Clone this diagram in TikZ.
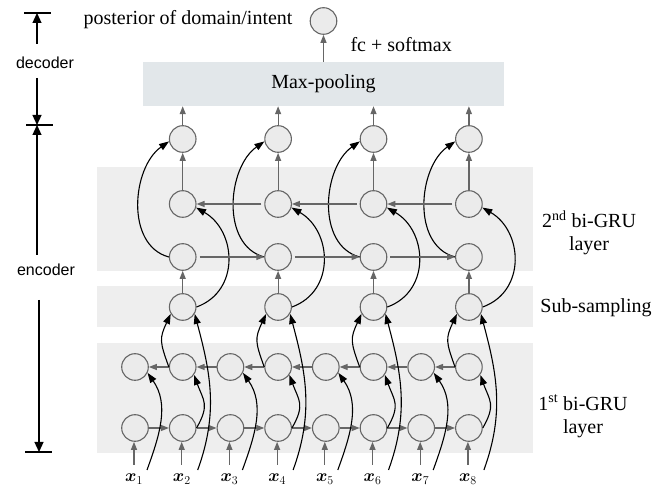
\documentclass[tikz,border=0pt]{standalone}
\usepackage{amsmath}
\usepackage{fontspec}
\setmainfont{Liberation Serif}
\newfontfamily\lsans{Liberation Sans}
\usetikzlibrary{arrows.meta}
\definecolor{boxgray}{HTML}{EEEEEE}
\definecolor{poolgray}{HTML}{E2E7EA}
\definecolor{edgegray}{HTML}{666666}
\definecolor{cellfill}{HTML}{EBEBEB}
\begin{document}
\begin{tikzpicture}[x=1pt,y=1pt,
  cell/.style={circle, draw=edgegray, fill=cellfill, line width=1.1pt, minimum size=26.6pt, inner sep=0pt},
  garrow/.style={draw=edgegray, line width=1.2pt, -{Triangle[length=8pt,width=6pt]}, color=edgegray},
  barrow/.style={draw=black, line width=1.1pt, -{Triangle[length=10pt,width=7pt]}},
  lbl/.style={font=\fontsize{20}{23}\selectfont, align=center},
  scalelbl/.style={font=\lsans\fontsize{16}{19}\selectfont},
  scalearrow/.style={line width=1.2pt, -{Triangle[length=10pt,width=9pt]}},
  tickline/.style={line width=1.2pt},
  xlab/.style={font=\fontsize{17}{19}\selectfont, anchor=base west, inner sep=0pt}
]
\useasboundingbox (0,0) rectangle (655,486);
% bands
\fill[boxgray] (97,33) rectangle (533,143);
\fill[boxgray] (97,159) rectangle (533,200);
\fill[boxgray] (97,215) rectangle (533,319);
\node[fill=poolgray, minimum width=361pt, minimum height=44pt, inner sep=0pt, lbl] (pool) at (323.5,402) {Max-pooling};
% first layer
\foreach \i in {1,...,8} {
  \pgfmathsetmacro\cx{135+47.7*(\i-1)}
  \node[cell] (F\i) at (\cx,58) {};
  \node[cell] (B\i) at (\cx,119) {};
  \coordinate (x\i) at (\cx-1,21);
  \coordinate (in\i) at (\cx+12,16);
  \coordinate (lin\i) at (\cx+15,16);
  \node[xlab] (lab\i) at (\cx-10,4.5) {$\boldsymbol{x}_{\i}$};
  \draw[garrow] (x\i) -- (F\i.south -| x\i);
}
\foreach \i [evaluate=\i as \j using int(\i+1)] in {1,...,7} {
  \draw[garrow] (F\i.east) -- (F\j.west);
  \draw[garrow] (B\j.west) -- (B\i.east);
}
\foreach \i in {1,3,5,7} {
  \draw[barrow] (in\i) to[out=70,in=-55] (B\i.-25);
}
% sub-sampling and second layer
\foreach \k in {1,...,4} {
  \pgfmathtruncatemacro\i{2*\k}
  \pgfmathsetmacro\cx{135+47.7*(2*\k-1)}
  \node[cell] (S\k) at (\cx,179) {};
  \node[cell] (P\k) at (\cx,229) {};
  \node[cell] (Q\k) at (\cx,282) {};
  \node[cell] (T\k) at (\cx,347) {};
  \draw[barrow] (lin\i) to[out=70,in=-75] (S\k.-30);
  \draw[barrow] (F\i.east) to[out=60,in=-70,looseness=1.3] (B\i.-35);
  \draw[barrow] (B\i.west) to[out=110,in=-115,looseness=1.3] (S\k.-150);
  \draw[garrow] (S\k) -- (P\k);
  \draw[garrow] (Q\k) -- (T\k);
  \draw[garrow] (T\k) -- (T\k |- pool.south);
  \draw[barrow] (P\k.west) to[out=165,in=-145] (T\k.-170);
  \draw[barrow] (S\k.east) to[out=20,in=-30,looseness=1.2] (Q\k.-15);
}
\foreach \k [evaluate=\k as \j using int(\k+1)] in {1,2,3} {
  \draw[garrow, shorten <=3pt] (P\k.east) -- (P\j.west);
  \draw[garrow, shorten <=3pt] (Q\j.west) -- (Q\k.east);
}
% output
\node[cell] (out) at (323.5,465) {};
\draw[garrow] (pool.north) -- (out.south);
\node[lbl, anchor=base east] (post) at (296,461) {posterior of domain/intent};
\node[lbl, anchor=base west] (fc) at (347,434) {fc + softmax};
% layer labels
\node[lbl] (l2) at (589,253) {2\textsuperscript{nd} bi-GRU\\layer};
\node[lbl] (ls) at (596,178) {Sub-sampling};
\node[lbl] (l1) at (583,70) {1\textsuperscript{st} bi-GRU\\layer};
% scale on the left
\node[scalelbl] (dec) at (45,423) {decoder};
\node[scalelbl] (enc) at (46,216) {encoder};
\coordinate (t1a) at (24,473); \coordinate (t1b) at (51,473);
\coordinate (t2a) at (26,361); \coordinate (t2b) at (53,361);
\coordinate (t3a) at (25,34);  \coordinate (t3b) at (52,34);
\coordinate (d1) at (37,442); \coordinate (d1t) at (37,473);
\coordinate (d2) at (37,408); \coordinate (d2t) at (37,361);
\coordinate (e1) at (37,231); \coordinate (e1t) at (37,361);
\coordinate (e2) at (39,186); \coordinate (e2t) at (39,34);
\draw[tickline] (t1a) -- (t1b);
\draw[tickline] (t2a) -- (t2b);
\draw[tickline] (t3a) -- (t3b);
\draw[scalearrow] (d1) -- (d1t);
\draw[scalearrow] (d2) -- (d2t);
\draw[scalearrow] (e1) -- (e1t);
\draw[scalearrow] (e2) -- (e2t);
\end{tikzpicture}
\end{document}
